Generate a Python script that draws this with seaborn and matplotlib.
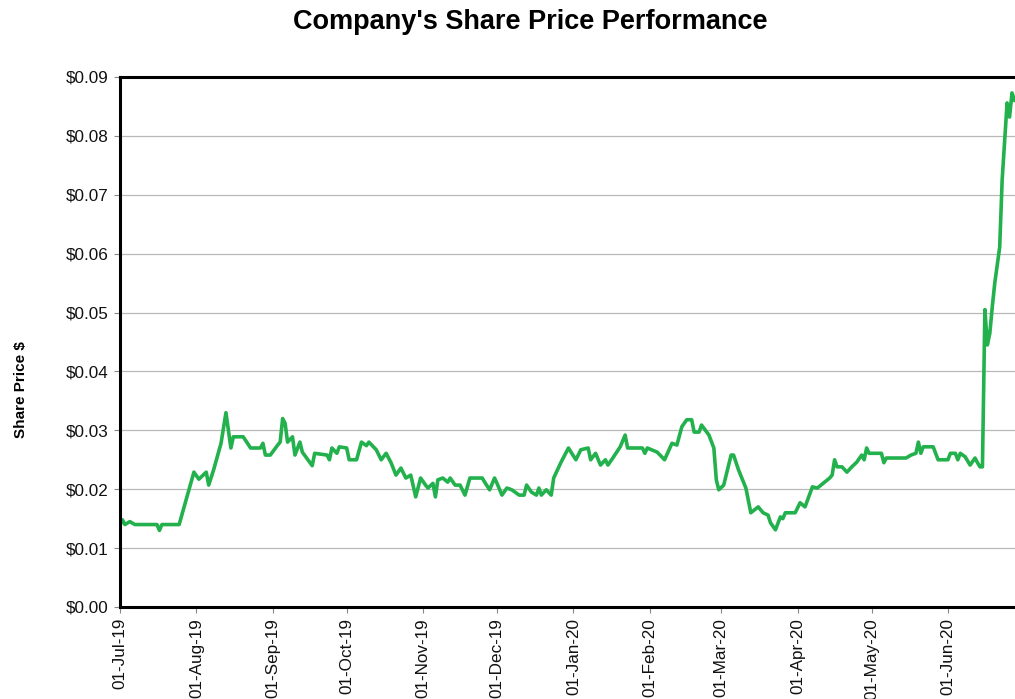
import matplotlib
matplotlib.use("Agg")
import matplotlib.pyplot as plt
import matplotlib.dates as mdates
from matplotlib.ticker import FuncFormatter, MultipleLocator
import seaborn as sns
import pandas as pd

dates = [
    "2019-07-01", "2019-07-02", "2019-07-03", "2019-07-05", "2019-07-07", "2019-07-16", "2019-07-17",
    "2019-07-18", "2019-07-25", "2019-07-31", "2019-08-02", "2019-08-05", "2019-08-06", "2019-08-08",
    "2019-08-11", "2019-08-13", "2019-08-15", "2019-08-16", "2019-08-20", "2019-08-23", "2019-08-27",
    "2019-08-28", "2019-08-29", "2019-08-31", "2019-09-03", "2019-09-04", "2019-09-05", "2019-09-06",
    "2019-09-07", "2019-09-09", "2019-09-10", "2019-09-12", "2019-09-13", "2019-09-17", "2019-09-18",
    "2019-09-23", "2019-09-24", "2019-09-25", "2019-09-27", "2019-09-28", "2019-10-01", "2019-10-02",
    "2019-10-05", "2019-10-07", "2019-10-09", "2019-10-10", "2019-10-13", "2019-10-15", "2019-10-17",
    "2019-10-19", "2019-10-21", "2019-10-23", "2019-10-25", "2019-10-27", "2019-10-29", "2019-10-31",
    "2019-11-02", "2019-11-03", "2019-11-05", "2019-11-06", "2019-11-07", "2019-11-09", "2019-11-11",
    "2019-11-12", "2019-11-14", "2019-11-16", "2019-11-18", "2019-11-20", "2019-11-25", "2019-11-26",
    "2019-11-28", "2019-11-30", "2019-12-01", "2019-12-03", "2019-12-05", "2019-12-07", "2019-12-10",
    "2019-12-12", "2019-12-13", "2019-12-15", "2019-12-17", "2019-12-18", "2019-12-19", "2019-12-21",
    "2019-12-23", "2019-12-24", "2019-12-27", "2019-12-30",
    "2020-01-02", "2020-01-04", "2020-01-07", "2020-01-08", "2020-01-10", "2020-01-12", "2020-01-14",
    "2020-01-15", "2020-01-17", "2020-01-20", "2020-01-22", "2020-01-23", "2020-01-29", "2020-01-30",
    "2020-01-31", "2020-02-04", "2020-02-07", "2020-02-10", "2020-02-12", "2020-02-14", "2020-02-16",
    "2020-02-18", "2020-02-19", "2020-02-21", "2020-02-22", "2020-02-25", "2020-02-27", "2020-02-28",
    "2020-02-29", "2020-03-02", "2020-03-05", "2020-03-06", "2020-03-08", "2020-03-11", "2020-03-13",
    "2020-03-16", "2020-03-18", "2020-03-20", "2020-03-21", "2020-03-23", "2020-03-25", "2020-03-26",
    "2020-03-27", "2020-03-31", "2020-04-02", "2020-04-04", "2020-04-07", "2020-04-09", "2020-04-14",
    "2020-04-15", "2020-04-16", "2020-04-17", "2020-04-19", "2020-04-21", "2020-04-23", "2020-04-25",
    "2020-04-27", "2020-04-28", "2020-04-29", "2020-04-30", "2020-05-05", "2020-05-06", "2020-05-07",
    "2020-05-15", "2020-05-17", "2020-05-19", "2020-05-20", "2020-05-21", "2020-05-22", "2020-05-26",
    "2020-05-28", "2020-06-01", "2020-06-02", "2020-06-04", "2020-06-05", "2020-06-06", "2020-06-08",
    "2020-06-10", "2020-06-12", "2020-06-13", "2020-06-14", "2020-06-15", "2020-06-16", "2020-06-17",
    "2020-06-18", "2020-06-19", "2020-06-20", "2020-06-22", "2020-06-23", "2020-06-24", "2020-06-25",
    "2020-06-26", "2020-06-27", "2020-06-28",
]

prices = [
    0.0139, 0.0148, 0.0140, 0.0145, 0.0140, 0.0140, 0.0130,
    0.0140, 0.0140, 0.0229, 0.0217, 0.0229, 0.0207, 0.0233,
    0.0278, 0.0330, 0.0270, 0.0289, 0.0289, 0.0270, 0.0270,
    0.0278, 0.0258, 0.0258, 0.0275, 0.0280, 0.0320, 0.0312,
    0.0280, 0.0289, 0.0258, 0.0280, 0.0263, 0.0240, 0.0261,
    0.0258, 0.0250, 0.0270, 0.0261, 0.0272, 0.0270, 0.0250,
    0.0250, 0.0280, 0.0274, 0.0280, 0.0267, 0.0250, 0.0261,
    0.0245, 0.0224, 0.0236, 0.0219, 0.0224, 0.0187, 0.0219,
    0.0207, 0.0202, 0.0210, 0.0187, 0.0216, 0.0219, 0.0212,
    0.0219, 0.0207, 0.0207, 0.0190, 0.0219, 0.0219, 0.0212,
    0.0199, 0.0219, 0.0210, 0.0190, 0.0202, 0.0199, 0.0190,
    0.0190, 0.0207, 0.0195, 0.0190, 0.0202, 0.0190, 0.0199,
    0.0190, 0.0219, 0.0246, 0.0270,
    0.0250, 0.0267, 0.0270, 0.0250, 0.0261, 0.0241, 0.0250,
    0.0241, 0.0253, 0.0272, 0.0292, 0.0270, 0.0270, 0.0261,
    0.0270, 0.0263, 0.0250, 0.0278, 0.0275, 0.0306, 0.0318,
    0.0318, 0.0297, 0.0297, 0.0309, 0.0292, 0.0270, 0.0216,
    0.0199, 0.0207, 0.0258, 0.0258, 0.0233, 0.0202, 0.0160,
    0.0170, 0.0160, 0.0156, 0.0143, 0.0131, 0.0153, 0.0150,
    0.0160, 0.0160, 0.0177, 0.0170, 0.0204, 0.0202, 0.0219,
    0.0224, 0.0250, 0.0238, 0.0238, 0.0229, 0.0238, 0.0246,
    0.0258, 0.0250, 0.0270, 0.0261, 0.0261, 0.0245, 0.0253,
    0.0253, 0.0258, 0.0261, 0.0280, 0.0261, 0.0272, 0.0272,
    0.0250, 0.0250, 0.0261, 0.0261, 0.0250, 0.0261, 0.0255,
    0.0241, 0.0253, 0.0245, 0.0238, 0.0238, 0.0505, 0.0445,
    0.0465, 0.0510, 0.0550, 0.0611, 0.0725, 0.0790, 0.0856,
    0.0832, 0.0873, 0.0860,
]

title = "Company's Share Price Performance"
y_label = "Share Price $"
line_color = "#22b14c"

sns.set_style("white")
plt.rcParams["font.family"] = ["Liberation Sans", "DejaVu Sans"]

df = pd.DataFrame({"Date": pd.to_datetime(dates), "Price": prices})

W, H = 1015, 699
fig = plt.figure(figsize=(W / 100, H / 100), dpi=100)
left_px, right_px, top_px, bottom_px = 120, 1019.4, 77, 607
ax = fig.add_axes([left_px / W, 1 - bottom_px / H, (right_px - left_px) / W, (bottom_px - top_px) / H])

sns.lineplot(data=df, x="Date", y="Price", ax=ax, color=line_color, linewidth=2.6,
             solid_joinstyle="round", solid_capstyle="round")

ax.set_xlim(pd.Timestamp("2019-07-01"), pd.Timestamp("2020-06-30"))
ax.set_ylim(0, 0.09)
ax.yaxis.set_major_locator(MultipleLocator(0.01))
ax.yaxis.set_major_formatter(FuncFormatter(lambda v, p: f"${v:.2f}"))
ax.xaxis.set_major_locator(mdates.MonthLocator())
ax.xaxis.set_major_formatter(mdates.DateFormatter("%d-%b-%y"))
ax.grid(axis="y", color="#b8b8b8", linewidth=0.9)
ax.grid(axis="x", visible=False)
ax.set_axisbelow(True)

for side in ["left", "top", "bottom", "right"]:
    ax.spines[side].set_visible(True)
    ax.spines[side].set_color("black")
    ax.spines[side].set_linewidth(2.2)

ax.tick_params(axis="both", which="major", direction="out", length=4, width=0.8,
               color="#888888", labelsize=12.3, labelcolor="#111111")
ax.tick_params(axis="x", pad=4, labelrotation=90)
ax.tick_params(axis="y", pad=4, left=True)
ax.tick_params(axis="x", bottom=True)

ax.set_xlabel("")
ax.set_ylabel(y_label, fontsize=11, fontweight="bold", color="black")
ax.yaxis.set_label_coords(-0.102, 0.41)

fig.text(530 / W, 1 - 22 / H, title, ha="center", va="center", fontsize=19.5,
         fontweight="bold", color="black")

fig.savefig("out.png", dpi=100)
